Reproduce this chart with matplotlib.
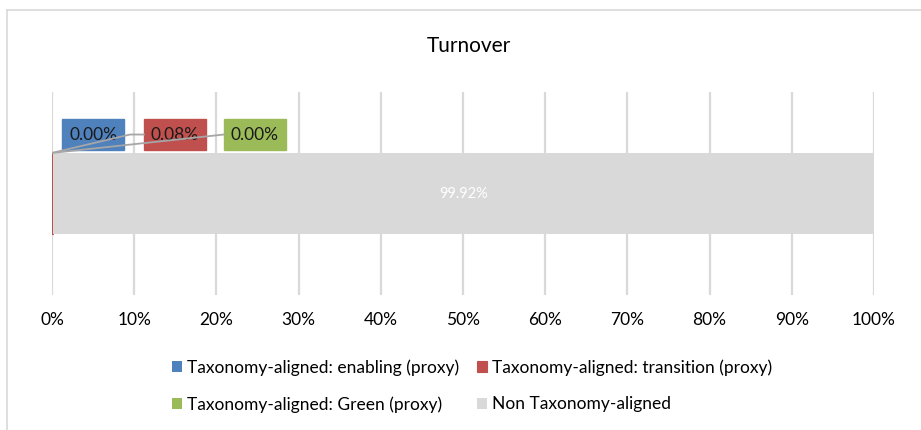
import matplotlib.pyplot as plt
from matplotlib.patches import Rectangle
from matplotlib.lines import Line2D
import matplotlib

matplotlib.rcParams['font.family'] = ['Lato', 'DejaVu Sans']

# data
series = ["Taxonomy-aligned: enabling (proxy)",
          "Taxonomy-aligned: transition (proxy)",
          "Taxonomy-aligned: Green (proxy)",
          "Non Taxonomy-aligned"]
values = [0.00, 0.08, 0.00, 99.92]
colors = ["#4f81bd", "#c0504d", "#9bbb59", "#d9d9d9"]
category = "Turnover"
ticks = list(range(0, 101, 10))

W, H = 921, 430
fig = plt.figure(figsize=(W / 100, H / 100), dpi=100, facecolor="w")

# chart area border (only top and left edges show)
fig.add_artist(Line2D([7 / W, 7 / W], [0, 1 - 10 / H], color="#d9d9d9", lw=1.2))
fig.add_artist(Line2D([7 / W, 1], [1 - 10 / H, 1 - 10 / H], color="#d9d9d9", lw=1.2))

ax = fig.add_axes([52 / W, 1 - 295 / H, (874 - 52) / W, (295 - 92) / H])
left = 0
starts = []
for name, v, c in zip(series, values, colors):
    ax.barh(0, v, left=left, height=0.4, color=c, label=name,
            edgecolor=c if 0 < v < 1 else "none", lw=0.8, zorder=2)
    starts.append(left)
    left += v

ax.set_xlim(0, 100)
ax.set_ylim(-0.5, 0.5)
ax.set_xticks(ticks)
ax.set_xticklabels(["%d%%" % t for t in ticks], fontsize=12.5)
ax.set_yticks([])
ax.tick_params(axis="x", length=0, pad=12)
ax.grid(axis="x", color="#d9d9d9", lw=1.6)
ax.set_axisbelow(True)
for s in ax.spines.values():
    s.set_visible(False)

# big segment label inside the bar
ax.text(starts[3] + values[3] / 2, 0, "%.2f%%" % values[3], color="w",
        ha="center", va="center", fontsize=10.5, zorder=3)

# small segments: labels in coloured boxes above the bar, with leader lines
box_w, box_h = 7.54, 0.153
box_x = [1.22, 11.19, 20.92]
box_y = 0.214
bar_top = 0.2
for i in range(3):
    ax.add_patch(Rectangle((box_x[i], box_y), box_w, box_h, color=colors[i], zorder=3))
    ax.text(box_x[i] + box_w / 2, box_y + box_h / 2, "%.2f%%" % values[i],
            ha="center", va="center", fontsize=12.5, color="#1a1a1a", zorder=4)
ym = box_y + box_h / 2
ax.plot([starts[1], 9.49, box_x[1]], [bar_top, ym, ym], color="#a6a6a6", lw=1.3, zorder=5)
ax.plot([starts[2], box_x[2]], [bar_top, ym], color="#a6a6a6", lw=1.3, zorder=5)

fig.text(469 / W, 1 - 46 / H, category, ha="center", va="center", fontsize=15)

h, l = ax.get_legend_handles_labels()
order = [0, 2, 1, 3]
fig.legend([h[k] for k in order], [l[k] for k in order], ncol=2,
           loc="center", bbox_to_anchor=(472 / W, 1 - 386 / H), frameon=False,
           fontsize=12.5, handlelength=0.6, handleheight=0.6, handletextpad=0.3,
           columnspacing=1.0, labelspacing=1.2)

plt.savefig("out.png", dpi=100)
